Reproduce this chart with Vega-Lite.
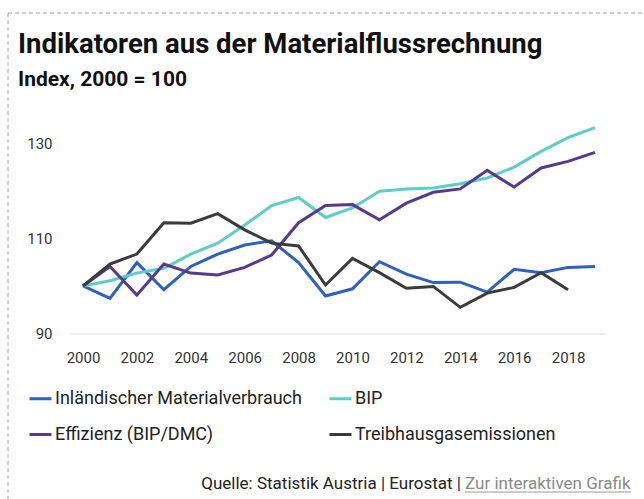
{
  "$schema": "https://vega.github.io/schema/vega-lite/v6.json",
  "autosize": "none",
  "padding": {"left": 70, "top": 119.5, "right": 39, "bottom": 165.5},
  "width": 535,
  "height": 214,
  "background": "white",
  "title": {
    "text": "Indikatoren aus der Materialflussrechnung",
    "subtitle": "Index, 2000 = 100",
    "anchor": "start",
    "frame": "group",
    "dx": -52,
    "offset": -77.5,
    "font": "Roboto",
    "fontSize": 27.5,
    "fontWeight": "bold",
    "color": "#111111",
    "subtitleFont": "Roboto",
    "subtitleFontSize": 21,
    "subtitleFontWeight": "bold",
    "subtitleColor": "#111111",
    "subtitlePadding": 11
  },
  "config": {
    "view": {"stroke": null},
    "axis": {"grid": false, "ticks": false, "labelFont": "Roboto", "labelFontSize": 15, "labelColor": "#333333", "title": null}
  },
  "datasets": {
    "series": [
      {"year": 2000, "series": "Inländischer Materialverbrauch", "value": 100},
      {"year": 2001, "series": "Inländischer Materialverbrauch", "value": 97.4},
      {"year": 2002, "series": "Inländischer Materialverbrauch", "value": 104.9},
      {"year": 2003, "series": "Inländischer Materialverbrauch", "value": 99.2},
      {"year": 2004, "series": "Inländischer Materialverbrauch", "value": 104.1},
      {"year": 2005, "series": "Inländischer Materialverbrauch", "value": 106.7},
      {"year": 2006, "series": "Inländischer Materialverbrauch", "value": 108.6},
      {"year": 2007, "series": "Inländischer Materialverbrauch", "value": 109.5},
      {"year": 2008, "series": "Inländischer Materialverbrauch", "value": 104.9},
      {"year": 2009, "series": "Inländischer Materialverbrauch", "value": 97.9},
      {"year": 2010, "series": "Inländischer Materialverbrauch", "value": 99.4},
      {"year": 2011, "series": "Inländischer Materialverbrauch", "value": 105.1},
      {"year": 2012, "series": "Inländischer Materialverbrauch", "value": 102.5},
      {"year": 2013, "series": "Inländischer Materialverbrauch", "value": 100.7},
      {"year": 2014, "series": "Inländischer Materialverbrauch", "value": 100.8},
      {"year": 2015, "series": "Inländischer Materialverbrauch", "value": 98.7},
      {"year": 2016, "series": "Inländischer Materialverbrauch", "value": 103.5},
      {"year": 2017, "series": "Inländischer Materialverbrauch", "value": 102.8},
      {"year": 2018, "series": "Inländischer Materialverbrauch", "value": 103.9},
      {"year": 2019, "series": "Inländischer Materialverbrauch", "value": 104.1},
      {"year": 2000, "series": "BIP", "value": 100},
      {"year": 2001, "series": "BIP", "value": 101.1},
      {"year": 2002, "series": "BIP", "value": 102.7},
      {"year": 2003, "series": "BIP", "value": 103.7},
      {"year": 2004, "series": "BIP", "value": 106.7},
      {"year": 2005, "series": "BIP", "value": 109.0},
      {"year": 2006, "series": "BIP", "value": 112.8},
      {"year": 2007, "series": "BIP", "value": 116.9},
      {"year": 2008, "series": "BIP", "value": 118.6},
      {"year": 2009, "series": "BIP", "value": 114.4},
      {"year": 2010, "series": "BIP", "value": 116.4},
      {"year": 2011, "series": "BIP", "value": 119.9},
      {"year": 2012, "series": "BIP", "value": 120.4},
      {"year": 2013, "series": "BIP", "value": 120.6},
      {"year": 2014, "series": "BIP", "value": 121.5},
      {"year": 2015, "series": "BIP", "value": 122.7},
      {"year": 2016, "series": "BIP", "value": 125.0},
      {"year": 2017, "series": "BIP", "value": 128.3},
      {"year": 2018, "series": "BIP", "value": 131.2},
      {"year": 2019, "series": "BIP", "value": 133.3},
      {"year": 2000, "series": "Effizienz (BIP/DMC)", "value": 100},
      {"year": 2001, "series": "Effizienz (BIP/DMC)", "value": 104.1},
      {"year": 2002, "series": "Effizienz (BIP/DMC)", "value": 98.1},
      {"year": 2003, "series": "Effizienz (BIP/DMC)", "value": 104.6},
      {"year": 2004, "series": "Effizienz (BIP/DMC)", "value": 102.7},
      {"year": 2005, "series": "Effizienz (BIP/DMC)", "value": 102.3},
      {"year": 2006, "series": "Effizienz (BIP/DMC)", "value": 103.9},
      {"year": 2007, "series": "Effizienz (BIP/DMC)", "value": 106.5},
      {"year": 2008, "series": "Effizienz (BIP/DMC)", "value": 113.3},
      {"year": 2009, "series": "Effizienz (BIP/DMC)", "value": 116.9},
      {"year": 2010, "series": "Effizienz (BIP/DMC)", "value": 117.1},
      {"year": 2011, "series": "Effizienz (BIP/DMC)", "value": 113.9},
      {"year": 2012, "series": "Effizienz (BIP/DMC)", "value": 117.4},
      {"year": 2013, "series": "Effizienz (BIP/DMC)", "value": 119.7},
      {"year": 2014, "series": "Effizienz (BIP/DMC)", "value": 120.4},
      {"year": 2015, "series": "Effizienz (BIP/DMC)", "value": 124.3},
      {"year": 2016, "series": "Effizienz (BIP/DMC)", "value": 120.8},
      {"year": 2017, "series": "Effizienz (BIP/DMC)", "value": 124.8},
      {"year": 2018, "series": "Effizienz (BIP/DMC)", "value": 126.2},
      {"year": 2019, "series": "Effizienz (BIP/DMC)", "value": 128.1},
      {"year": 2000, "series": "Treibhausgasemissionen", "value": 100},
      {"year": 2001, "series": "Treibhausgasemissionen", "value": 104.6},
      {"year": 2002, "series": "Treibhausgasemissionen", "value": 106.7},
      {"year": 2003, "series": "Treibhausgasemissionen", "value": 113.3},
      {"year": 2004, "series": "Treibhausgasemissionen", "value": 113.2},
      {"year": 2005, "series": "Treibhausgasemissionen", "value": 115.2},
      {"year": 2006, "series": "Treibhausgasemissionen", "value": 111.8},
      {"year": 2007, "series": "Treibhausgasemissionen", "value": 109.0},
      {"year": 2008, "series": "Treibhausgasemissionen", "value": 108.4},
      {"year": 2009, "series": "Treibhausgasemissionen", "value": 100.2},
      {"year": 2010, "series": "Treibhausgasemissionen", "value": 105.8},
      {"year": 2011, "series": "Treibhausgasemissionen", "value": 102.8},
      {"year": 2012, "series": "Treibhausgasemissionen", "value": 99.5},
      {"year": 2013, "series": "Treibhausgasemissionen", "value": 99.9},
      {"year": 2014, "series": "Treibhausgasemissionen", "value": 95.5},
      {"year": 2015, "series": "Treibhausgasemissionen", "value": 98.5},
      {"year": 2016, "series": "Treibhausgasemissionen", "value": 99.7},
      {"year": 2017, "series": "Treibhausgasemissionen", "value": 102.8},
      {"year": 2018, "series": "Treibhausgasemissionen", "value": 99.2}
    ]
  },
  "layer": [
    {
      "data": {"name": "series"},
      "mark": {"type": "line", "strokeWidth": 3, "strokeJoin": "miter"},
      "encoding": {
        "x": {
          "field": "year", "type": "quantitative",
          "scale": {"domain": [1999.5176, 2019.371], "nice": false, "zero": false},
          "axis": {"values": [2000, 2002, 2004, 2006, 2008, 2010, 2012, 2014, 2016, 2018], "format": "d", "domain": true, "domainColor": "#dcdcdc", "domainWidth": 1, "labelPadding": 17, "labelFlush": false}
        },
        "y": {
          "field": "value", "type": "quantitative",
          "scale": {"domain": [90, 135], "nice": false, "zero": false},
          "axis": {"values": [90, 110, 130], "domain": false, "labelPadding": 18}
        },
        "color": {
          "field": "series", "type": "nominal",
          "scale": {
            "domain": ["Inländischer Materialverbrauch", "BIP", "Effizienz (BIP/DMC)", "Treibhausgasemissionen"],
            "range": ["#2e5fc2", "#5ccdc8", "#553a8e", "#3b3b3b"]
          },
          "legend": {
            "title": null,
            "orient": "none",
            "legendX": -42,
            "legendY": 266.5,
            "direction": "horizontal",
            "columns": 2,
            "padding": 0,
            "symbolType": "stroke",
            "symbolSize": 484,
            "symbolStrokeWidth": 3,
            "labelFont": "Roboto",
            "labelFontSize": 18,
            "labelColor": "#222222",
            "labelOffset": 2,
            "labelLimit": 400,
            "rowPadding": 14,
            "columnPadding": 21
          }
        }
      }
    },
    {
      "data": {"values": [{"label": "Quelle: Statistik Austria | Eurostat |"}]},
      "mark": {"type": "text", "align": "right", "baseline": "middle", "font": "Roboto", "fontSize": 17, "color": "#222222"},
      "encoding": {
        "x": {"datum": 2014.027, "type": "quantitative"},
        "y": {"datum": 58.35, "type": "quantitative"},
        "text": {"field": "label"}
      }
    },
    {
      "data": {"values": [{"label": "Zur interaktiven Grafik"}]},
      "mark": {"type": "text", "align": "left", "baseline": "middle", "font": "Roboto", "fontSize": 17, "color": "#8a8a8a"},
      "encoding": {
        "x": {"datum": 2014.176, "type": "quantitative"},
        "y": {"datum": 58.35, "type": "quantitative"},
        "text": {"field": "label"}
      }
    },
    {
      "data": {"values": [{}]},
      "mark": {"type": "rule", "color": "#9a9a9a", "strokeWidth": 1},
      "encoding": {
        "x": {"datum": 2014.176, "type": "quantitative"},
        "x2": {"datum": 2020.336},
        "y": {"datum": 56.67, "type": "quantitative"}
      }
    },
    {
      "data": {"values": [{}]},
      "mark": {"type": "rule", "color": "#a0a0a0", "strokeWidth": 1, "strokeDash": [4, 3]},
      "encoding": {
        "x": {"datum": 1997.217, "type": "quantitative"},
        "x2": {"datum": 2020.818},
        "y": {"datum": 157.39, "type": "quantitative"}
      }
    },
    {
      "data": {"values": [{}]},
      "mark": {"type": "rule", "color": "#a0a0a0", "strokeWidth": 1, "strokeDash": [4, 3]},
      "encoding": {
        "x": {"datum": 1997.217, "type": "quantitative"},
        "y": {"datum": 157.39, "type": "quantitative"},
        "y2": {"datum": 55.2}
      }
    }
  ]
}
